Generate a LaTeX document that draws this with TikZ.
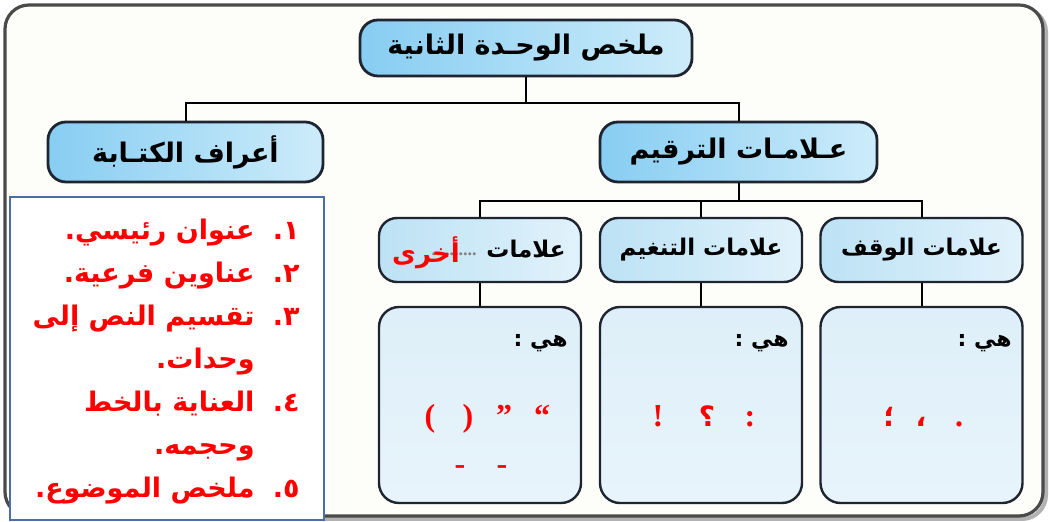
\documentclass[tikz,border=0pt]{standalone}
\usepackage{fontspec}
\setmainfont{Liberation Serif}
\newfontfamily\arabicfont[Script=Arabic]{DejaVu Sans}
\TeXXeTstate=1
\usetikzlibrary{calc}
\definecolor{boxline}{HTML}{1E2530}
\definecolor{listblue}{HTML}{4A6FA8}
\definecolor{framegray}{HTML}{4A4A4A}
\definecolor{pure red}{HTML}{FF0000}
\tikzset{
  titlebox/.style={draw=boxline, line width=1.4pt, rounded corners=9pt,
    left color={rgb,255:red,135;green,205;blue,242}, right color={rgb,255:red,205;green,236;blue,250},
    inner sep=0pt, font=\arabicfont\bfseries\fontsize{13.5}{16}\selectfont},
  subbox/.style={draw=boxline, line width=1.2pt, rounded corners=9pt,
    left color={rgb,255:red,188;green,226;blue,245}, right color={rgb,255:red,225;green,242;blue,251},
    inner sep=0pt, minimum width=101pt, minimum height=32pt, font=\arabicfont\bfseries\fontsize{11.5}{13}\selectfont},
  panel/.style={draw=boxline, line width=1.2pt, rounded corners=10pt,
    top color={rgb,255:red,222;green,239;blue,249}, bottom color={rgb,255:red,232;green,244;blue,251},
    inner sep=0pt, minimum width=101pt, minimum height=98pt},
  conn/.style={draw=black, line width=1pt},
  listnum/.style={text=pure red, font=\arabicfont\bfseries\fontsize{13.5}{15}\selectfont, inner sep=0pt},
  listtxt/.style={text=pure red, font=\arabicfont\bfseries\fontsize{13.5}{15}\selectfont, inner sep=0pt},
  hiya/.style={font=\arabicfont\bfseries\fontsize{11}{12}\selectfont, inner sep=0pt},
  punct/.style={text=pure red, font=\bfseries\fontsize{16}{18}\selectfont, inner sep=0pt, anchor=base},
  apunct/.style={text=pure red, font=\arabicfont\bfseries\fontsize{14}{16}\selectfont, inner sep=0pt, anchor=base},
}
\begin{document}
\begin{tikzpicture}[x=0.5pt,y=-0.5pt]
\useasboundingbox (0,0) rectangle (1049,522);
\fill[white] (0,0) rectangle (1049,522);
% outer frame with shadow
\draw[gray!60, line width=2pt, rounded corners=12pt] (8,8) rectangle (1046,519);
\draw[framegray, line width=1.6pt, rounded corners=12pt, fill={rgb,255:red,253;green,253;blue,250}] (5,5) rectangle (1043,516);

% main nodes
\node[titlebox, minimum width=166pt, minimum height=28pt] (top) at (526,48) {\beginR ملخص الوحـدة الثانية\endR};
\node[titlebox, minimum width=137.5pt, minimum height=30pt] (orth) at (185.5,152) {\beginR أعراف الكتـابة\endR};
\node[titlebox, minimum width=138.5pt, minimum height=30pt] (tarq) at (738.5,152) {\beginR عـلامـات الترقيم\endR};

\node[subbox] (akhra) at (480,250) {};
\node[subbox] (tanghim) at (701,250) {\beginR علامات التنغيم\endR};
\node[subbox] (waqf) at (921.5,250) {\beginR علامات الوقف\endR};

\node[font=\arabicfont\bfseries\fontsize{11.5}{13}\selectfont, inner sep=0pt, anchor=east] (akhralbl) at (566,249) {\beginR علامات\endR};
\node[text=gray, font=\bfseries\fontsize{9}{10}\selectfont, inner sep=0pt, anchor=east] (akhradots) at (477,254) {..........};
\node[text=pure red, font=\arabicfont\bfseries\fontsize{13}{15}\selectfont, inner sep=0pt] (akhrared) at (426,253) {\beginR أخرى\endR};

\node[panel] (p1) at (480,405) {};
\node[panel] (p2) at (701,405) {};
\node[panel] (p3) at (921.5,405) {};

% connectors
\coordinate (j1) at (526,103);
\draw[conn] (top.south) -- (j1);
\draw[conn] (orth.north) |- (j1) -| (tarq.north);
\coordinate (j2) at (738.5,201);
\draw[conn] (tarq.south) -- (j2);
\draw[conn] (akhra.north) |- (j2) -| (waqf.north);
\draw[conn] (tanghim.north) -- (tanghim.north |- j2);
\draw[conn] (akhra.south) -- (p1.north);
\draw[conn] (tanghim.south) -- (p2.north);
\draw[conn] (waqf.south) -- (p3.north);

% "hiya" labels
\node[hiya, anchor=east] (h1) at (568,343) {\beginR هي :\endR};
\node[hiya, anchor=east] (h2) at (789,343) {\beginR هي :\endR};
\node[hiya, anchor=east] (h3) at (1012,343) {\beginR هي :\endR};

% punctuation
\node[punct] (q1) at (542,427) {“};
\node[punct] (q2) at (504,427) {”};
\node[punct] (pr) at (468,427) {)};
\node[punct] (pl) at (430,427) {(};
\node[punct] (d1) at (460,475) {-};
\node[punct] (d2) at (502,475) {-};
\node[punct] (col) at (750,427) {:};
\node[apunct] (qm) at (707,427) {؟};
\node[punct] (ex) at (658,427) {!};
\node[punct] (dot) at (959,427) {.};
\node[apunct] (cm) at (921,427) {،};
\node[apunct] (sc) at (889,427) {؛};

% list box
\node[draw=listblue, line width=1.2pt, fill=white, minimum width=157pt, minimum height=161.5pt, inner sep=0pt] (list) at (167,358.5) {};
\node[listnum, anchor=base east] (n1) at (300,240) {\beginR ١.\endR};
\node[listnum, anchor=base east] (n2) at (300,283) {\beginR ٢.\endR};
\node[listnum, anchor=base east] (n3) at (300,326) {\beginR ٣.\endR};
\node[listnum, anchor=base east] (n4) at (300,412) {\beginR ٤.\endR};
\node[listnum, anchor=base east] (n5) at (300,498) {\beginR ٥.\endR};
\node[listtxt, anchor=base east] (t1) at (255,240) {\beginR عنوان رئيسي.\endR};
\node[listtxt, anchor=base east] (t2) at (255,283) {\beginR عناوين فرعية.\endR};
\node[listtxt, anchor=base east] (t3) at (255,326) {\beginR تقسيم النص إلى\endR};
\node[listtxt, anchor=base east] (t3b) at (255,369) {\beginR وحدات.\endR};
\node[listtxt, anchor=base east] (t4) at (255,412) {\beginR العناية بالخط\endR};
\node[listtxt, anchor=base east] (t4b) at (255,455) {\beginR وحجمه.\endR};
\node[listtxt, anchor=base east] (t5) at (255,498) {\beginR ملخص الموضوع.\endR};
\end{tikzpicture}
\end{document}
